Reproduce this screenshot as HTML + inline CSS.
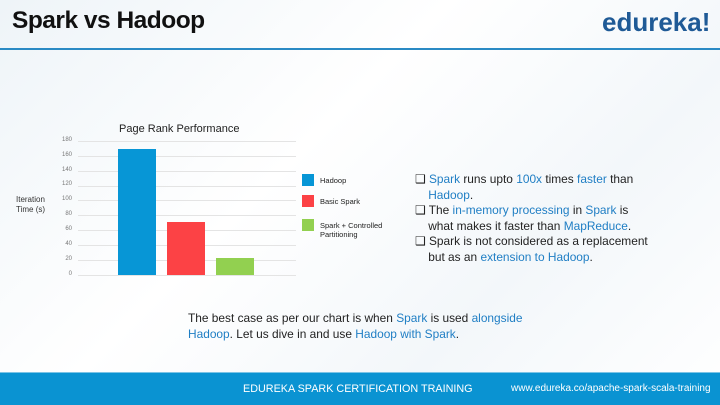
<!DOCTYPE html>
<html><head><style>
body{margin:0;width:720px;height:405px;position:relative;overflow:hidden;background:linear-gradient(135deg,#eef4f8 0%,#ffffff 40%,#f3f7fa 70%,#ffffff 100%);font-family:"Liberation Sans",sans-serif;}
.a{position:absolute;white-space:nowrap}
.b{color:#1f7ec4}
.yl{position:absolute;left:58px;width:14px;text-align:right;font-size:6px;color:#777}
.g{position:absolute;left:78px;width:218px;height:1px;background:#e4e4e4}
.txt{font-size:11.9px;color:#222;line-height:15.5px}
</style></head><body>
<div class="a" style="left:12px;top:7px;font-size:24.5px;font-weight:bold;color:#111;letter-spacing:-0.5px">Spark vs Hadoop</div>
<div class="a" style="left:602px;top:7px;font-size:26px;font-weight:bold;color:#1f5a96">edureka!</div>
<div class="a" style="left:0;top:48px;width:720px;height:2px;background:#2a8ac4"></div>

<div class="a" style="left:119px;top:123px;font-size:11px;color:#222">Page Rank Performance</div>
<div class="a" style="left:16px;top:195px;font-size:8px;color:#333;line-height:10px">Iteration<br>Time (s)</div>
<div class="yl" style="top:137px">180</div><div class="g" style="top:141px"></div>
<div class="yl" style="top:152px">160</div><div class="g" style="top:156px"></div>
<div class="yl" style="top:167px">140</div><div class="g" style="top:171px"></div>
<div class="yl" style="top:181px">120</div><div class="g" style="top:186px"></div>
<div class="yl" style="top:196px">100</div><div class="g" style="top:200px"></div>
<div class="yl" style="top:211px">80</div><div class="g" style="top:215px"></div>
<div class="yl" style="top:226px">60</div><div class="g" style="top:230px"></div>
<div class="yl" style="top:241px">40</div><div class="g" style="top:245px"></div>
<div class="yl" style="top:256px">20</div><div class="g" style="top:260px"></div>
<div class="yl" style="top:271px">0</div><div class="g" style="top:275px"></div>
<div class="a" style="left:118px;top:149px;width:38px;height:126px;background:#0796d6"></div>
<div class="a" style="left:167px;top:222px;width:38px;height:53px;background:#fc4245"></div>
<div class="a" style="left:216px;top:258px;width:38px;height:17px;background:#92d050"></div>
<div class="a" style="left:302px;top:174px;width:12px;height:12px;background:#0796d6"></div>
<div class="a" style="left:320px;top:176px;font-size:7.5px;color:#222">Hadoop</div>
<div class="a" style="left:302px;top:195px;width:12px;height:12px;background:#fc4245"></div>
<div class="a" style="left:320px;top:197px;font-size:7.5px;color:#222">Basic Spark</div>
<div class="a" style="left:302px;top:219px;width:12px;height:12px;background:#92d050"></div>
<div class="a" style="left:320px;top:221px;font-size:7.5px;color:#222;line-height:9px">Spark + Controlled<br>Partitioning</div>

<div class="a txt" style="left:415px;top:172px">❑ <span class="b">Spark</span> runs upto <span class="b">100x</span> times <span class="b">faster</span> than<br>&nbsp;&nbsp;&nbsp;&nbsp;<span class="b">Hadoop</span>.<br>❑ The <span class="b">in-memory processing</span> in <span class="b">Spark</span> is<br>&nbsp;&nbsp;&nbsp;&nbsp;what makes it faster than <span class="b">MapReduce</span>.<br>❑ Spark is not considered as a replacement<br>&nbsp;&nbsp;&nbsp;&nbsp;but as an <span class="b">extension to Hadoop</span>.</div>

<div class="a txt" style="left:188px;top:311px">The best case as per our chart is when <span class="b">Spark</span> is used <span class="b">alongside</span><br><span class="b">Hadoop</span>. Let us dive in and use <span class="b">Hadoop with Spark</span>.</div>

<div class="a" style="left:0;top:373px;width:720px;height:32px;background:#0a93d2"></div>
<div class="a" style="left:0;top:372px;width:720px;height:1px;background:#7cc4e6"></div>
<div class="a" style="left:243px;top:383px;font-size:10.8px;color:#fff">EDUREKA SPARK CERTIFICATION TRAINING</div>
<div class="a" style="left:511px;top:383px;font-size:10px;color:#fff">www.edureka.co/apache-spark-scala-training</div>
</body></html>
